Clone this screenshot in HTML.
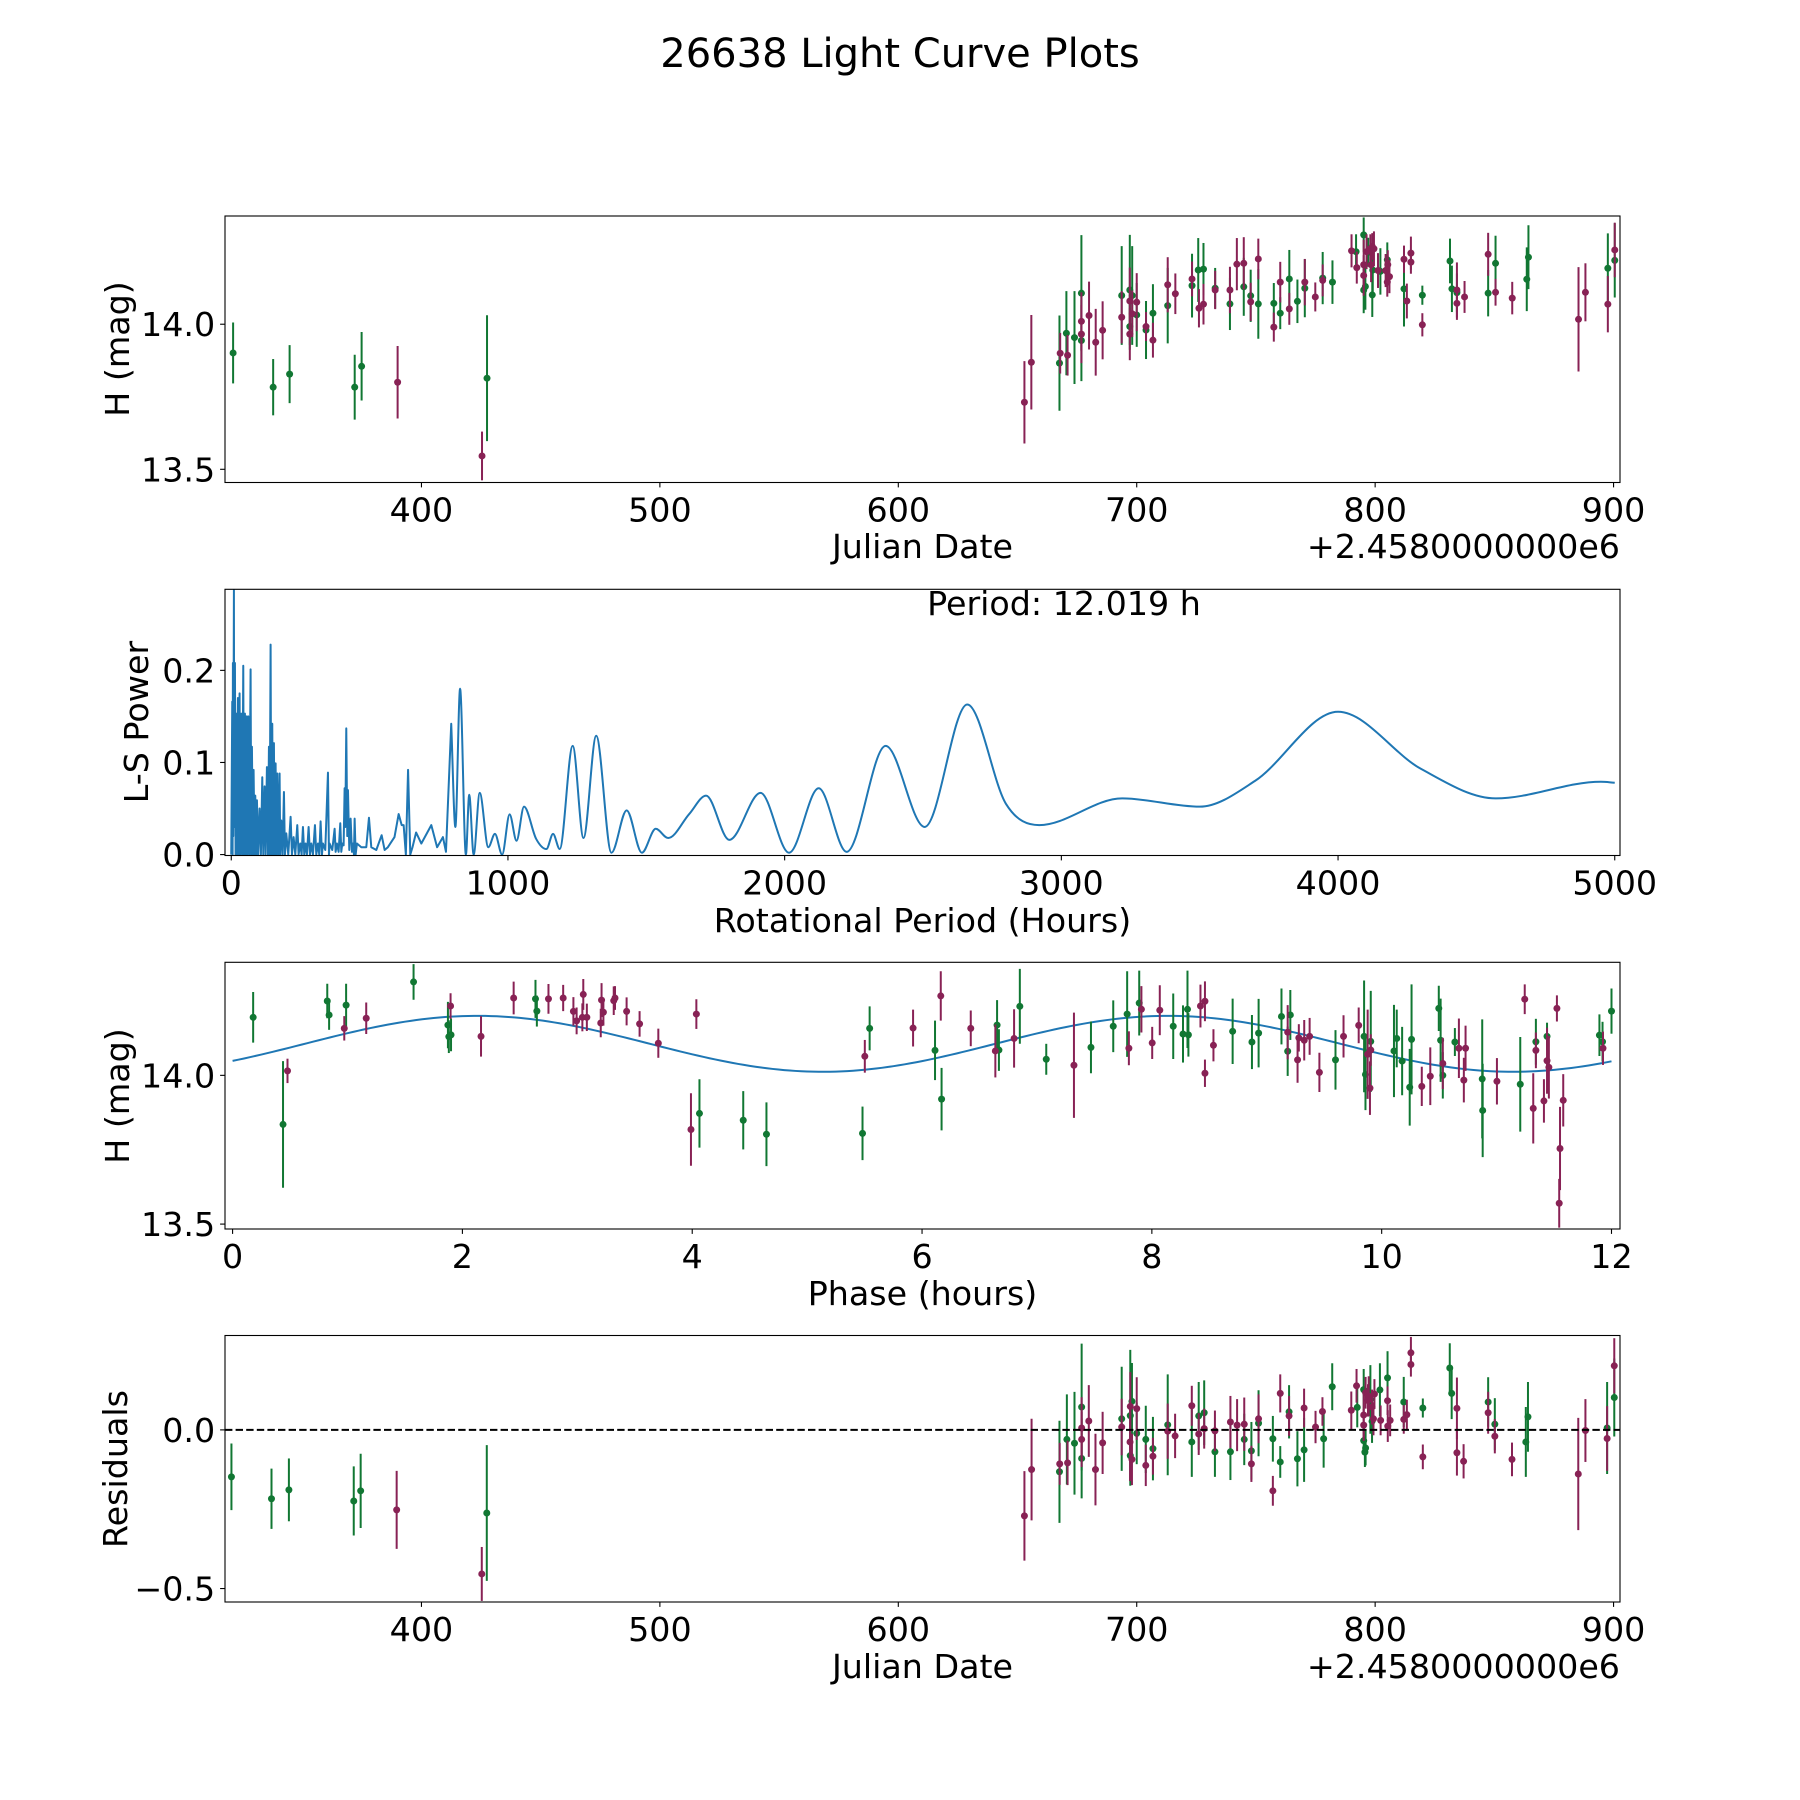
<!DOCTYPE html>
<html>
<head>
<meta charset="utf-8">
<style>
html,body{margin:0;padding:0;background:#fff;}
svg{display:block;}
text{font-family:"DejaVu Sans","Liberation Sans",sans-serif;fill:#000;}
</style>
</head>
<body>
<svg id="fig" width="1800" height="1800" viewBox="0 0 1800 1800" xmlns="http://www.w3.org/2000/svg">
<rect x="0" y="0" width="1800" height="1800" fill="#fff"/>
<text x="900" y="67" font-size="40" text-anchor="middle">26638 Light Curve Plots</text>
<text x="922.5" y="558" font-size="33.3" text-anchor="middle">Julian Date</text>
<text x="1620" y="558" font-size="33.3" text-anchor="end">+2.4580000000e6</text>
<text font-size="33.3" text-anchor="middle" transform="translate(129,349) rotate(-90)">H (mag)</text>
<text x="922.5" y="932" font-size="33.3" text-anchor="middle">Rotational Period (Hours)</text>
<text font-size="33.3" text-anchor="middle" transform="translate(148,722) rotate(-90)">L-S Power</text>
<text x="1064" y="615" font-size="33.3" text-anchor="middle">Period: 12.019 h</text>
<text x="922.5" y="1305" font-size="33.3" text-anchor="middle">Phase (hours)</text>
<text font-size="33.3" text-anchor="middle" transform="translate(129,1096) rotate(-90)">H (mag)</text>
<text x="922.5" y="1678" font-size="33.3" text-anchor="middle">Julian Date</text>
<text x="1620" y="1678" font-size="33.3" text-anchor="end">+2.4580000000e6</text>
<text font-size="33.3" text-anchor="middle" transform="translate(127,1469) rotate(-90)">Residuals</text>
</svg>
<script>
// ---------- Panel 1: light curve ----------
const p1GreenJD=[321,337.8,344.7,372,374.9,427.5,667.6,670.5,673.9,676.8,676.8,693.7,697.1,697.1,698.1,700,703.9,706.8,713,723.2,725.8,728,732.9,739.1,744.9,747.8,751,757.5,760.2,764,767.4,770.5,778,782.1,792,795.2,795.2,795.9,797.1,798.8,799,802.2,805.1,812.1,819.8,831.4,832.2,834.3,847.4,850.5,863.6,864.3,897.6,900.5];
const p1GreenMag=[13.901,13.783,13.828,13.783,13.855,13.814,13.866,13.969,13.954,14.107,13.944,14.099,14.118,13.992,14.099,14.032,13.98,14.038,14.064,14.133,14.187,14.19,14.124,14.07,14.129,14.098,14.07,14.072,14.038,14.156,14.079,14.124,14.159,14.145,14.25,14.308,14.118,14.13,14.248,14.101,14.187,14.182,14.222,14.122,14.1,14.218,14.122,14.109,14.107,14.21,14.155,14.231,14.193,14.22];
const p1GreenErr=[.105,.097,.1,.112,.118,.217,.164,.145,.16,.2,.14,.17,.19,.08,.17,.11,.1,.1,.13,.11,.11,.09,.07,.09,.1,.09,.12,.07,.055,.1,.075,.1,.09,.075,.06,.06,.08,.08,.05,.076,.075,.08,.06,.13,.033,.077,.08,.066,.08,.095,.11,.11,.12,.128];
const p1PurpleJD=[390,425.4,652.9,655.8,667.9,671,676.8,676.8,680,682.8,685.7,693.7,697.1,697.1,698.1,700,703.9,706.8,713,716.2,723.2,726.1,728,732.9,739.1,742,744.9,747.8,751,757.5,760.2,764,770.5,774.9,778,790.1,792.3,795.2,795.2,796.4,798,798.8,798.3,799.5,801.2,804.4,805.1,805.3,806,812.1,813.3,815,815,819.8,834.3,834.3,837.5,847.4,850.5,857.5,885.3,888.2,897.6,900.5];
const p1PurpleMag=[13.8,13.546,13.731,13.869,13.9,13.893,14.01,13.966,14.03,13.938,13.979,14.024,14.08,13.966,14.036,14.076,13.992,13.945,14.136,14.105,14.156,14.055,14.069,14.118,14.118,14.207,14.21,14.077,14.225,13.99,14.145,14.053,14.145,14.094,14.151,14.253,14.195,14.205,14.168,14.25,14.26,14.268,14.205,14.26,14.185,14.185,14.145,14.205,14.164,14.224,14.08,14.245,14.214,13.998,14.118,14.072,14.094,14.241,14.11,14.09,14.017,14.11,14.069,14.256];
const p1PurpleErr=[.125,.084,.142,.163,.07,.07,.1,.1,.117,.115,.1,.09,.115,.09,.08,.1,.05,.06,.095,.07,.06,.066,.07,.066,.08,.09,.09,.066,.07,.05,.07,.055,.08,.05,.055,.057,.055,.086,.07,.06,.05,.046,.06,.06,.06,.057,.05,.05,.057,.047,.06,.057,.04,.04,.095,.057,.055,.074,.046,.056,.18,.1,.097,.094];
const jdTicks=[400,500,600,700,800,900];
const magTicks=[13.5,14.0];
const magTickLabels=["13.5","14.0"];

// ---------- Panel 2: periodogram ----------
const lsPeriod=[0,3.6,4.8,6.0,7.2,9.6,10.8,13.3,15.7,18.1,20.5,24.1,26.5,30.1,32.5,36.2,39.8,43.4,45.8,49.4,51.8,55.4,57.8,61.5,65.1,69.9,72.3,74.7,78.3,80.7,84.4,86.8,90.4,92.8,97.6,102.4,107.2,112.1,115.7,120.5,124.1,128.9,132.6,136.2,138.6,142.2,144.6,148.2,150.6,154.2,156.7,160.3,162.7,166.3,169.9,174.7,177.1,180.8,185.6,190.4,194,198.8,206,214.5,219.3,225.3,231.4,238.6,243.4,249.4,254.3,259.1,263.9,268.7,273.5,279.6,284.4,289.2,295.2,302.5,307.3,313.3,318.1,322.9,327.8,331.4,339.8,349.5,353.1,355.5,365.1,373.6,377.2,382,388,394,397.7,401.3,406.1,409.7,412.1,415.7,419.3,421.8,426.6,431.4,436.2,439.8,443.4,445.9,449.5,454.3,470,488,497.7,506.1,524.2,543.5,554.3,566,590,605,616,623,631,639,647,655,668,687,723,744,765,776,795,810,827,848,860,876,898,929,953,979,1006,1031,1058,1102,1139,1163,1187,1234,1273,1319,1374,1429,1484,1534,1579,1655,1716,1800,1913,2016,2123,2224,2365,2506,2660,2800,2920,3220,3500,3700,4000,4300,4570,4950,5000];
const lsPower=[0,.166,0,.208,.02,.287,.03,.208,0,.153,0,.170,0,.175,0,.153,0,.205,0,.153,0,.150,0,.150,0,.201,0,.117,0,.092,0,.064,0,.059,0,.05,0,.084,0,.074,0,.095,0,.117,0,.228,0,.142,0,.121,0,.099,0,.088,0,.088,0,.037,0,.068,0,.023,0,.041,0,.019,0,.032,0,.012,0,.03,0,.012,0,.03,0,.012,0,.032,0,.012,0,.036,0,.012,.005,.089,0,.012,.005,.028,.003,.012,.003,.034,.003,.012,.01,.072,.03,.137,.02,.07,.005,.039,.003,.012,0,.039,0,.012,.008,.008,.040,.008,.005,.021,.005,.008,.019,.044,.032,.032,0,.092,0,.008,.024,.012,.032,.008,.019,.003,.142,.03,.18,0,.065,0,.067,.008,.0225,0,.0436,.015,.052,.017,.006,.0225,.006,.118,.018,.129,.002,.048,.002,.028,.018,.044,.064,.016,.067,.002,.072,.003,.118,.03,.163,.055,.032,.061,.052,.08,.155,.093,.061,.079,.078];
const periodTicks=[0,1000,2000,3000,4000,5000];
const powerTicks=[0,0.1,0.2];
const powerTickLabels=["0.0","0.1","0.2"];

// ---------- Panel 3: phased curve ----------
const phGreen=[0.179,0.439,0.824,0.84,0.988,1.575,1.874,1.882,1.901,2.636,2.648,4.063,4.444,4.646,5.482,5.544,6.113,6.17,6.653,6.669,6.851,7.081,7.47,7.664,7.785,7.89,8.186,8.271,8.31,8.318,8.703,8.871,8.929,9.128,9.205,9.182,9.598,9.847,9.859,9.905,10.107,10.131,10.178,10.244,10.26,10.497,10.513,10.532,10.637,10.875,10.879,11.206,11.342,11.439,11.895,11.922,12.0];
const phGreenMag=[14.195,13.835,14.25,14.203,14.236,14.314,14.169,14.13,14.136,14.257,14.216,13.872,13.849,13.802,13.805,14.158,14.084,13.92,14.169,14.085,14.232,14.054,14.094,14.165,14.206,14.243,14.165,14.139,14.222,14.136,14.148,14.112,14.142,14.198,14.203,14.081,14.052,14.131,14.003,14.114,14.082,14.124,14.048,13.96,14.121,14.225,14.118,14.0,14.112,13.988,13.882,13.97,14.113,14.131,14.135,14.113,14.216];
const phGreenErr=[.085,.213,.058,.05,.072,.06,.078,.055,.055,.064,.052,.115,.098,.107,.09,.074,.1,.105,.084,.07,.126,.052,.087,.087,.144,.109,.11,.096,.13,.073,.11,.091,.115,.094,.084,.083,.1,.188,.12,.17,.155,.097,.115,.129,.185,.076,.14,.078,.047,.2,.157,.159,.077,.046,.07,.067,.076];
const phPurple=[0.478,0.972,1.163,1.897,2.162,2.446,2.749,2.877,3.052,2.966,2.994,3.044,3.083,3.211,3.204,3.227,3.317,3.328,3.429,3.542,3.705,4.036,3.989,5.502,5.922,6.163,6.424,6.638,6.801,7.322,7.8,7.909,8.003,8.069,8.423,8.462,8.462,8.536,9.182,9.268,9.279,9.326,9.373,9.458,9.668,9.8,9.878,9.898,9.905,10.349,10.423,10.532,10.672,10.73,10.715,11.003,11.245,11.319,11.342,11.412,11.439,11.455,11.525,11.552,11.545,11.58,11.926];
const phPurpleMag=[14.015,14.158,14.192,14.233,14.131,14.26,14.257,14.26,14.272,14.215,14.183,14.195,14.195,14.253,14.176,14.212,14.251,14.26,14.215,14.173,14.108,14.206,13.818,14.064,14.159,14.267,14.158,14.082,14.124,14.034,14.091,14.222,14.109,14.219,14.233,14.249,14.007,14.101,14.145,14.052,14.126,14.118,14.131,14.01,14.131,14.168,14.071,13.957,14.085,13.963,13.997,14.04,14.091,14.091,13.984,13.98,14.256,13.889,14.084,13.914,14.049,14.027,14.225,13.754,13.57,13.916,14.091];
const phPurpleErr=[.041,.041,.053,.043,.068,.055,.05,.044,.052,.048,.045,.047,.046,.057,.048,.045,.048,.04,.047,.043,.049,.05,.122,.055,.062,.083,.06,.089,.098,.177,.057,.078,.054,.084,.072,.067,.046,.054,.091,.077,.046,.068,.062,.066,.071,.06,.15,.09,.053,.066,.097,.086,.1,.076,.075,.078,.05,.118,.06,.073,.111,.105,.044,.14,.082,.088,.056];
const fitMean=[14.106];
const fitAmp=[0.094];
const fitPeakPhase=[2.13];
const fitPeriod=[6.0095];
const phaseTicks=[0,2,4,6,8,10,12];

// ---------- Panel 4: residuals ----------
const resGreenJD=[320.3,337.1,344.4,371.6,374.5,427.4,667.6,670.7,673.9,676.9,676.9,693.7,697.3,697.3,698,700,703.8,706.8,713,723.1,726,728.3,732.8,739.3,745.1,748.1,751.1,757.1,760.2,763.9,767.4,770.2,778.4,782,792.5,795.2,795.2,795.7,796,798,798.7,802,805.2,812,820,831.3,832.1,847.4,850.2,863.2,864.1,897.3,900.3];
const resGreen=[-.148,-.217,-.189,-.224,-.192,-.262,-.132,-.03,-.042,.072,-.09,.035,.045,-.081,.09,-.011,-.03,-.059,.016,-.038,.044,.054,-.069,-.069,-.03,-.066,.021,-.028,-.101,.057,-.091,-.063,-.028,.136,.071,.127,-.034,-.07,-.057,.096,.027,.126,.164,.088,.069,.195,.115,.088,.018,-.038,.041,.006,.102];
const resGreenErr=[.105,.095,.099,.109,.117,.214,.161,.142,.162,.2,.126,.164,.207,.095,.121,.097,.106,.1,.159,.11,.107,.102,.079,.089,.081,.091,.104,.072,.05,.084,.087,.101,.091,.074,.063,.065,.042,.047,.055,.108,.068,.084,.084,.079,.03,.078,.081,.078,.082,.11,.11,.145,.123];
const resPurpleJD=[389.6,425.3,652.9,655.9,667.7,671,676.9,676.9,679.9,682.7,685.7,693.7,697.3,697.2,698,700,703.8,706.8,713,716.1,723.1,726,728.3,732.8,739.3,742.1,745.1,748.1,751.1,757.1,760.2,763.9,770.2,775,777.9,790,792.2,795.2,795.2,796,797,797.3,798.7,799.7,799.3,802.3,805.2,805.3,806.3,812,813.3,815,815,820,834.3,834.3,837.1,847.4,850.2,857.4,885.2,888.2,897.3,900.3];
const resPurple=[-.252,-.454,-.271,-.125,-.107,-.104,.006,-.03,.028,-.125,-.041,.009,.074,-.038,-.093,.067,-.112,-.083,-.004,-.019,.076,-.013,.004,-.003,.025,.015,.018,-.107,.035,-.192,.115,.044,.069,.009,.058,.062,.139,.047,.015,.117,.093,.106,.072,.113,.035,.03,.092,.012,.03,.033,.048,.243,.206,-.085,.068,-.072,-.099,.054,-.02,-.093,-.139,-.002,-.027,.202];
const resPurpleErr=[.123,.085,.141,.16,.066,.07,.097,.087,.113,.113,.098,.089,.108,.123,.081,.099,.065,.058,.087,.07,.063,.066,.063,.064,.082,.082,.084,.057,.077,.047,.06,.063,.061,.051,.045,.059,.053,.074,.05,.05,.051,.063,.055,.047,.052,.047,.045,.05,.05,.045,.047,.05,.038,.039,.097,.072,.054,.066,.054,.053,.177,.099,.102,.087];
const resTicks=[-0.5,0.0];
const resTickLabels=["\u22120.5","0.0"];

// ---------- rendering ----------
const NS='http://www.w3.org/2000/svg';
const svg=document.getElementById('fig');
const GREEN='#117733', PURPLE='#882255', BLUE='#1f77b4';
function mk(tag,attrs,parent){const e=document.createElementNS(NS,tag);for(const k in attrs)e.setAttribute(k,attrs[k]);parent.appendChild(e);return e;}
function lin(d0,d1,r0,r1){return v=>r0+(v-d0)/(d1-d0)*(r1-r0);}

function makePanel(id,box,xd,yd){
  const p={box:box,sx:lin(xd[0],xd[1],box.L,box.R),sy:lin(yd[0],yd[1],box.B,box.T)};
  const cp=mk('clipPath',{id:'clip-'+id},svg);
  mk('rect',{x:box.L,y:box.T,width:box.R-box.L,height:box.B-box.T},cp);
  p.g=mk('g',{'clip-path':'url(#clip-'+id+')'},svg);
  
  
  return p;
}
function drawFrame(p,id,xt,xl,yt,yl){
  const b=p.box;
  const fr=mk('rect',{x:b.L,y:b.T,width:b.R-b.L,height:b.B-b.T,fill:'none',stroke:'#000','stroke-width':1.1},svg);
  
  
  const xg=mk('g',{},svg);
  
  
  xt.forEach((v,i)=>{const x=p.sx(v);
    mk('line',{x1:x,x2:x,y1:b.B,y2:b.B+4.9,stroke:'#000','stroke-width':1.1},xg);
    const t=mk('text',{x:x,y:b.B+39,'font-size':33.3,'text-anchor':'middle'},xg);
    
    
    t.textContent=xl[i];});
  const yg=mk('g',{},svg);
  
  
  yt.forEach((v,i)=>{const y=p.sy(v);
    mk('line',{x1:b.L-4.9,x2:b.L,y1:y,y2:y,stroke:'#000','stroke-width':1.1},yg);
    const t=mk('text',{x:b.L-9.8,y:y+12,'font-size':33.3,'text-anchor':'end'},yg);
    
    
    t.textContent=yl[i];});
}
function drawErr(p,xs,ys,es,color,name){
  const g=mk('g',{},p.g);
  
  
  for(let i=0;i<xs.length;i++){
    const x=p.sx(xs[i]);
    const bar=mk('line',{x1:x,x2:x,y1:p.sy(ys[i]-es[i]),y2:p.sy(ys[i]+es[i]),stroke:color,'stroke-width':2},g);
    
    
    const c=mk('circle',{cx:x,cy:p.sy(ys[i]),r:3.5,fill:color},g);
    
    
  }
}
function monotonePath(px,py){
  const n=px.length,d=[],m=new Array(n);
  for(let i=0;i<n-1;i++)d.push((py[i+1]-py[i])/(px[i+1]-px[i]));
  m[0]=d[0];m[n-1]=d[n-2];
  for(let i=1;i<n-1;i++){m[i]=(d[i-1]*d[i]<=0)?0:(d[i-1]+d[i])/2;}
  for(let i=0;i<n-1;i++){if(d[i]===0){m[i]=0;m[i+1]=0;continue;}
    const a=m[i]/d[i],b=m[i+1]/d[i],s=a*a+b*b;if(s>9){const t=3/Math.sqrt(s);m[i]=t*a*d[i];m[i+1]=t*b*d[i];}}
  let s='M'+px[0]+','+py[0];
  for(let i=0;i<n-1;i++){const h=(px[i+1]-px[i])/3;
    s+=' C'+(px[i]+h)+','+(py[i]+m[i]*h)+' '+(px[i+1]-h)+','+(py[i+1]-m[i+1]*h)+' '+px[i+1]+','+py[i+1];}
  return s;
}

// Panel 1
const P1=makePanel('p1',{L:225,R:1620,T:216,B:482.5},[317.6,902.7],[13.4545,14.373]);
drawErr(P1,p1GreenJD,p1GreenMag,p1GreenErr,GREEN,'p1-green-series');
drawErr(P1,p1PurpleJD,p1PurpleMag,p1PurpleErr,PURPLE,'p1-purple-series');
drawFrame(P1,'p1',jdTicks,jdTicks.map(String),magTicks,magTickLabels);

// Panel 2
const P2=makePanel('p2',{L:225,R:1620,T:589.3,B:855.5},[-22.6,5019],[-0.001,0.288]);
(function(){
  const X=lsPeriod.map(P2.sx),Y=lsPower.map(P2.sy);
  let split=lsPeriod.findIndex(v=>v>=780);
  let d='M'+X[0]+','+Y[0];
  for(let i=1;i<=split;i++)d+=' L'+X[i]+','+Y[i];
  const smooth=monotonePath(X.slice(split),Y.slice(split));
  d+=' '+smooth.replace(/^M[^ ]+/,'');
  const path=mk('path',{d:d,fill:'none',stroke:BLUE,'stroke-width':2,'stroke-linejoin':'round'},P2.g);
  
  
})();
drawFrame(P2,'p2',periodTicks,periodTicks.map(String),powerTicks,powerTickLabels);

// Panel 3
const P3=makePanel('p3',{L:225,R:1620,T:962.3,B:1229},[-0.066,12.074],[13.4835,14.380]);
(function(){
  const N=240;let d='';
  for(let i=0;i<=N;i++){const ph=12*i/N;
    const v=fitMean[0]+fitAmp[0]*Math.cos(2*Math.PI*(ph-fitPeakPhase[0])/fitPeriod[0]);
    d+=(i?' L':'M')+P3.sx(ph)+','+P3.sy(v);}
  const path=mk('path',{d:d,fill:'none',stroke:BLUE,'stroke-width':2},P3.g);
  
  
})();
drawErr(P3,phGreen,phGreenMag,phGreenErr,GREEN,'p3-green-series');
drawErr(P3,phPurple,phPurpleMag,phPurpleErr,PURPLE,'p3-purple-series');
drawFrame(P3,'p3',phaseTicks,phaseTicks.map(String),magTicks,magTickLabels);

// Panel 4
const P4=makePanel('p4',{L:225,R:1620,T:1335.5,B:1602},[317.6,902.7],[-0.5424,0.2975]);
drawErr(P4,resGreenJD,resGreen,resGreenErr,GREEN,'p4-green-series');
drawErr(P4,resPurpleJD,resPurple,resPurpleErr,PURPLE,'p4-purple-series');
(function(){const y=P4.sy(0);
  const zl=mk('line',{x1:225,x2:1620,y1:y,y2:y,stroke:'#000','stroke-width':2,'stroke-dasharray':'7.4,3.2'},P4.g);
  
  
})();
drawFrame(P4,'p4',jdTicks,jdTicks.map(String),resTicks,resTickLabels);
</script>
</body>
</html>
